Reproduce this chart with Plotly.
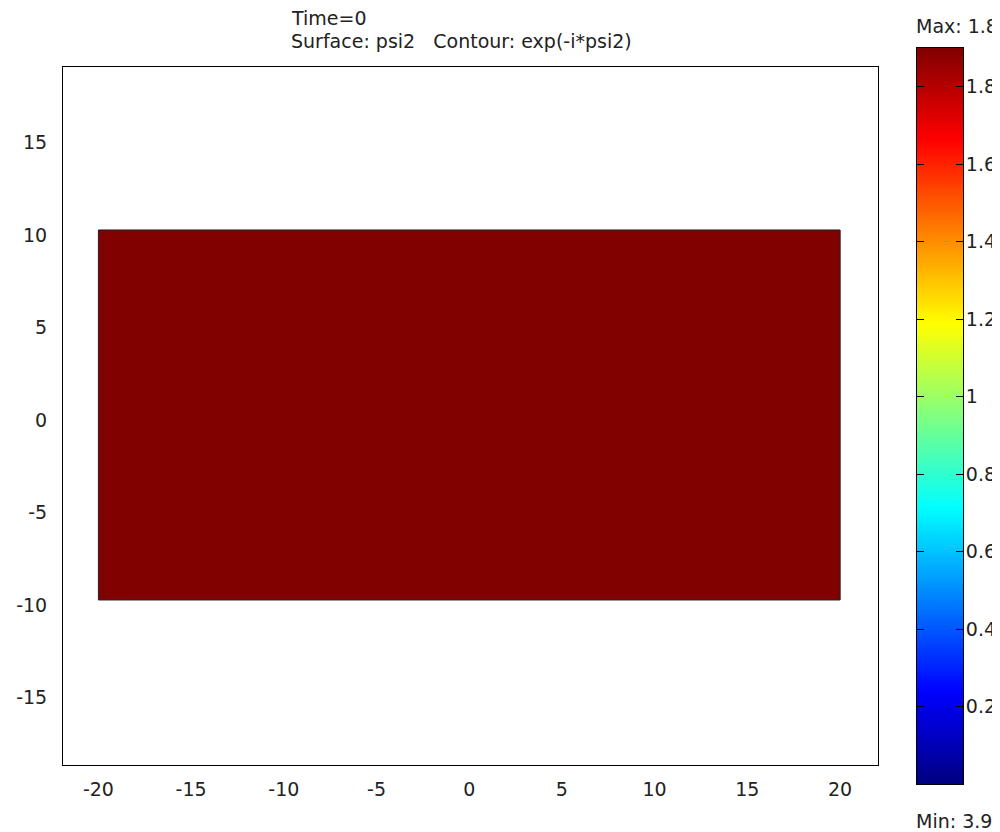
import numpy as np
import plotly.graph_objects as go

# ---- data ----
x_edges = [-20, 20]          # rectangle domain, x
y_edges = [-10, 10]          # rectangle domain, y
psi2_values = [[1.899]]      # surface value (uniform, top of scale)
x_ticks = [-20, -15, -10, -5, 0, 5, 10, 15, 20]
x_ticktext = ["-20", "-15", "-10", "-5", "0", "5", "10", "15", "20"]
y_ticks = [-15, -10, -5, 0, 5, 10, 15]
y_ticktext = ["-15", "-10", "-5", "0", "5", "10", "15"]
cbar_ticks = [0.2, 0.4, 0.6, 0.8, 1.0, 1.2, 1.4, 1.6, 1.8]
cbar_ticktext = ["0.2", "0.4", "0.6", "0.8", "1", "1.2", "1.4", "1.6", "1.8"]
c_min, c_max = 0.0, 1.9
x_range = [-21.91, 22.05]
y_range = [-18.92, 18.81]
title_line1 = "Time=0"
title_line2 = "Surface: psi2   Contour: exp(-i*psi2)"
max_text = "Max: 1.8"
min_text = "Min: 3.9"

jet = [
    [0.0, "rgb(0,0,128)"],
    [0.125, "rgb(0,0,255)"],
    [0.375, "rgb(0,255,255)"],
    [0.625, "rgb(255,255,0)"],
    [0.875, "rgb(255,0,0)"],
    [1.0, "rgb(128,0,0)"],
]

FONT = "DejaVu Sans"
FS = 19
TXT = "#222222"
# the page body adds an 8 px margin; design in window pixels
OFF = 8
W, H = 1000 - OFF, 832 - OFF


def fx(px):
    return (px - OFF) / W


def fy(py):
    return 1 - (py - OFF) / H


fig = go.Figure()

# surface
fig.add_trace(go.Heatmap(
    z=psi2_values, x=x_edges, y=y_edges,
    colorscale=jet, zmin=c_min, zmax=c_max, showscale=False,
    hoverinfo="skip", xaxis="x", yaxis="y",
))
# boundary of the domain
fig.add_trace(go.Scatter(
    x=[x_edges[0], x_edges[1], x_edges[1], x_edges[0], x_edges[0]],
    y=[y_edges[0], y_edges[0], y_edges[1], y_edges[1], y_edges[0]],
    mode="lines", line=dict(color="#222222", width=1),
    showlegend=False, hoverinfo="skip", xaxis="x", yaxis="y",
))

# colour bar drawn as its own heatmap
levels = np.linspace(c_min, c_max, 381)
mids = (levels[:-1] + levels[1:]) / 2
fig.add_trace(go.Heatmap(
    z=mids.reshape(-1, 1), x=[0, 1], y=levels,
    colorscale=jet, zmin=c_min, zmax=c_max, showscale=False,
    hoverinfo="skip", xaxis="x2", yaxis="y2",
))

tf = dict(family=FONT, size=FS, color=TXT)


def ann(text, px, py):
    return dict(text=text, x=fx(px), y=fy(py), xref="paper", yref="paper",
                showarrow=False, xanchor="left", yanchor="middle", font=tf)


fig.update_layout(
    width=W, height=H,
    margin=dict(l=0, r=0, t=0, b=0),
    paper_bgcolor="white", plot_bgcolor="white",
    font=tf,
    showlegend=False,
    xaxis=dict(
        domain=[fx(63), fx(878)], range=x_range,
        tickvals=x_ticks, ticktext=x_ticktext, ticks="", showgrid=False, zeroline=False,
        showline=True, linecolor="black", linewidth=1, mirror=True,
        ticklabelstandoff=7, tickfont=tf, automargin=False,
        anchor="y",
    ),
    yaxis=dict(
        domain=[fy(765), fy(67)], range=y_range,
        tickvals=y_ticks, ticktext=y_ticktext, ticks="", showgrid=False, zeroline=False,
        showline=True, linecolor="black", linewidth=1, mirror=True,
        ticklabelstandoff=11, ticklabelshift=5, tickfont=tf, automargin=False,
        anchor="x",
    ),
    xaxis2=dict(
        domain=[fx(917), fx(963)], range=[0, 1],
        showticklabels=False, ticks="", showgrid=False, zeroline=False,
        showline=True, linecolor="black", linewidth=1, mirror=True,
        automargin=False, anchor="y2",
    ),
    yaxis2=dict(
        domain=[fy(784), fy(48)], range=[c_min, c_max],
        side="right", tickvals=cbar_ticks, ticktext=cbar_ticktext,
        ticks="inside", ticklen=7, tickcolor="black", tickwidth=1,
        showgrid=False, zeroline=False,
        showline=True, linecolor="black", linewidth=1, mirror="ticks",
        ticklabelstandoff=-2, tickfont=tf, automargin=False,
        anchor="x2",
    ),
    annotations=[
        ann(title_line1, 289, 18),
        ann(title_line2, 289, 41),
        ann(max_text, 914, 26),
        ann(min_text, 914, 821),
    ],
)

fig.write_html("out.html")
